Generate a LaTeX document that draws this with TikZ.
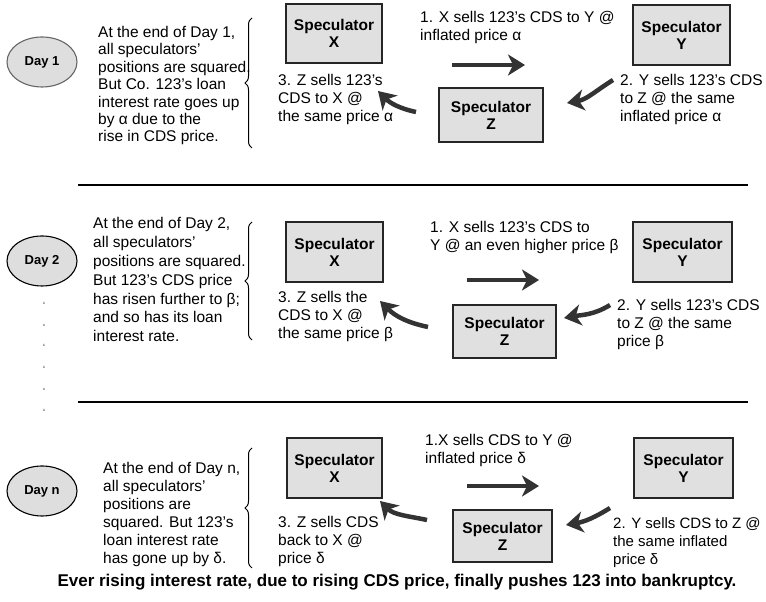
\documentclass[tikz,border=0pt]{standalone}
\usepackage{fontspec}
\setmainfont{Liberation Sans}
\usetikzlibrary{arrows.meta,shapes.geometric,decorations.pathreplacing}

\begin{document}
\begin{tikzpicture}[
  x=1pt, y=1pt,
  font=\fontsize{15.5}{18}\selectfont,
  day/.style={ellipse, draw, line width=1.1pt, fill=black!13, inner sep=0pt,
    minimum width=70, minimum height=50, font=\bfseries\fontsize{13}{15}\selectfont},
  spec/.style={draw=black!85, line width=1.4pt, fill=black!12, align=center,
    inner sep=0pt, font=\bfseries\fontsize{15.5}{17}\selectfont},
  txt/.style={align=left, inner sep=0pt, anchor=north west},
  a/.style={-{Stealth[length=17pt, width=21pt, inset=5pt]}, line width=4.5pt, black!80},
  brc/.style={decorate, decoration={brace, amplitude=7pt}, line width=1pt},
  sep/.style={line width=1.4pt},
  tick/.style={inner sep=0pt, font=\fontsize{9}{9}\selectfont}]

\useasboundingbox (0,0) rectangle (766,602);

% =================== Day 1 ===============================================
\node[day, draw=black!60] (d1) at (42,540) {Day 1};
\node[txt, font=\fontsize{15.5}{17.4}\selectfont] (n1) at (98,576)
  {At the end of Day 1,\\all speculators'\\positions are squared.\\But Co. 123's loan\\
   interest rate goes up\\by α due to the\\rise in CDS price.};
\draw[brc] (252,454) -- (252,584);

\node[spec, minimum width=96, minimum height=59] (x1) at (334,568.5) {Speculator\\X};
\node[spec, minimum width=97, minimum height=60] (y1) at (681.5,567) {Speculator\\Y};
\node[spec, minimum width=104, minimum height=54] (z1) at (491,487) {Speculator\\Z};

\node[txt] (l11) at (420,591) {1. X sells 123's CDS to Y @\\inflated price α};
\node[txt] (l12) at (620,528) {2. Y sells 123's CDS\\to Z @ the same\\inflated price α};
\node[txt] (l13) at (278,528) {3. Z sells 123's\\CDS to X @\\the same price α};

\coordinate (s1) at (452,537);  \coordinate (e1) at (525,537);
\coordinate (s2) at (613,522);  \coordinate (e2) at (567,499);
\coordinate (s3) at (416,490);  \coordinate (e3) at (378,511);
\draw[a] (s1) -- (e1);
\draw[a] (s2) to[out=212, in=10] (e2);
\draw[a] (s3) to[out=168, in=-45] (e3);

\draw[sep] (78,417) -- (748,417);

% =================== Day 2 ===============================================
\node[day] (d2) at (42,341) {Day 2};
\node[txt, font=\fontsize{15.5}{18.9}\selectfont] (n2) at (93,385)
  {At the end of Day 2,\\all speculators'\\positions are squared.\\But 123's CDS price\\
   has risen further to β;\\and so has its loan\\interest rate.};
\draw[brc] (252,262) -- (252,380);

\node[spec, minimum width=97, minimum height=60] (x2) at (334.5,350) {Speculator\\X};
\node[spec, minimum width=99, minimum height=60] (y2) at (682.5,350) {Speculator\\Y};
\node[spec, minimum width=103, minimum height=53] (z2) at (504.5,270.5) {Speculator\\Z};

\node[txt] (l21) at (430,381) {1. X sells 123's CDS to\\Y @ an even higher price β};
\node[txt] (l22) at (617,303) {2. Y sells 123's CDS\\to Z @ the same\\price β};
\node[txt] (l23) at (278,311) {3. Z sells the\\CDS to X @\\the same price β};

\coordinate (s1) at (467,322);  \coordinate (e1) at (539,322);
\coordinate (s2) at (610,297);  \coordinate (e2) at (564,284);
\coordinate (s3) at (428,275);  \coordinate (e3) at (380,301);
\draw[a] (s1) -- (e1);
\draw[a] (s2) to[out=212, in=10] (e2);
\draw[a] (s3) to[out=168, in=-45] (e3);

% the row of ticks between Day 2 and Day n
\foreach \ty [count=\i] in {297,275,255,233,211,190}
  \node[tick] (t\i) at (44,\ty) {‘};

\draw[sep] (78,200) -- (748,200);

% =================== Day n ===============================================
\node[day] (dn) at (42,111) {Day n};
\node[txt] (nn) at (103,140)
  {At the end of Day n,\\all speculators'\\positions are\\squared. But 123's\\
   loan interest rate\\has gone up by δ.};
\draw[brc] (252,34) -- (252,154);

\node[spec, minimum width=95, minimum height=60] (x3) at (334.5,134) {Speculator\\X};
\node[spec, minimum width=99, minimum height=60] (y3) at (683.5,134) {Speculator\\Y};
\node[spec, minimum width=99, minimum height=52] (z3) at (502.5,66) {Speculator\\Z};

\node[txt] (l31) at (425,168) {1.X sells CDS to Y @\\inflated price δ};
\node[txt, font=\fontsize{15}{18}\selectfont] (l32) at (613,85)
  {2. Y sells CDS to Z @\\the same inflated\\price δ};
\node[txt] (l33) at (278,86) {3. Z sells CDS\\back to X @\\price δ};

\coordinate (s1) at (467,116);  \coordinate (e1) at (539,116);
\coordinate (s2) at (610,94);   \coordinate (e2) at (566,77);
\coordinate (s3) at (427,82);   \coordinate (e3) at (380,101);
\draw[a] (s1) -- (e1);
\draw[a] (s2) to[out=212, in=10] (e2);
\draw[a] (s3) to[out=168, in=-45] (e3);

\node[font=\bfseries\fontsize{17}{19}\selectfont] (cap) at (397,20)
  {Ever rising interest rate, due to rising CDS price, finally pushes 123 into bankruptcy.};
\end{tikzpicture}
\end{document}
